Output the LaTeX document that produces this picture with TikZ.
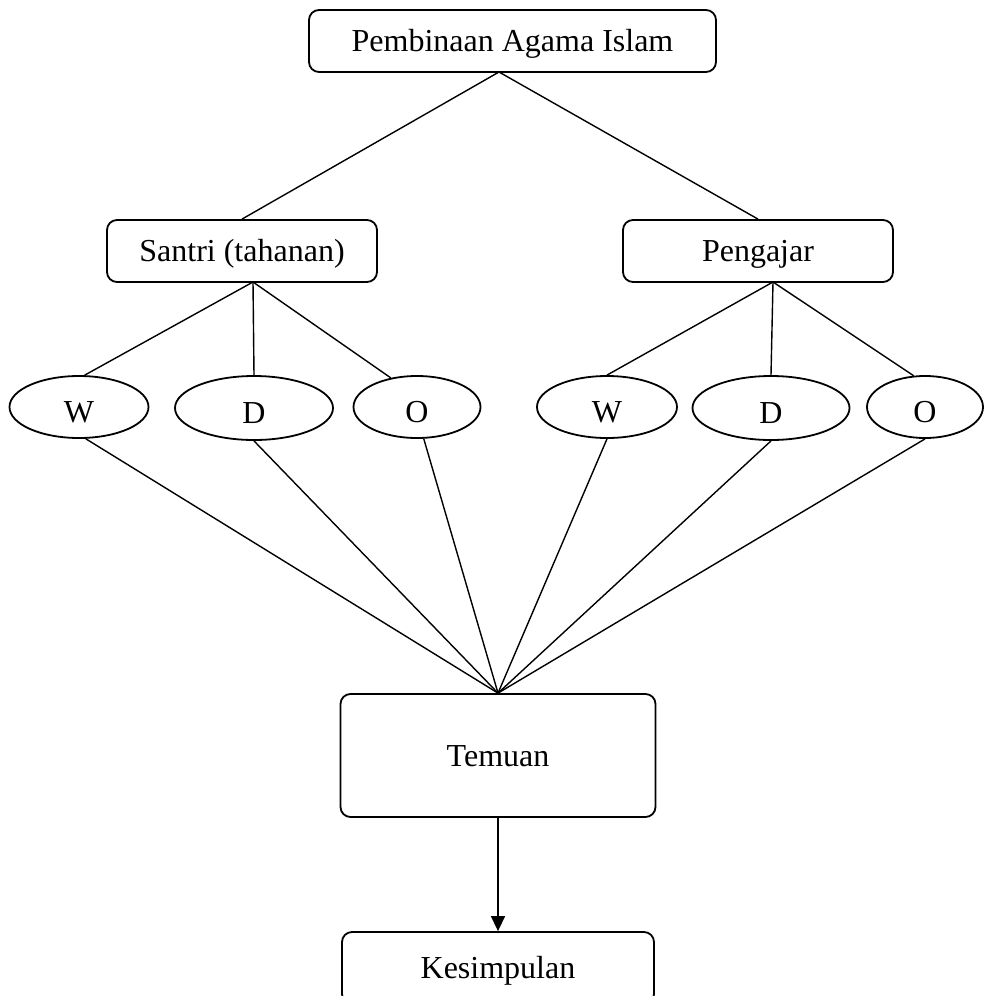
\documentclass[tikz,border=0pt]{standalone}
\usepackage{fontspec}
\setmainfont{Liberation Serif}
\usetikzlibrary{arrows.meta,shapes.geometric}

\begin{document}
\begin{tikzpicture}[x=0.5pt,y=-0.5pt,
	every node/.style={font=\fontsize{16}{19}\selectfont, inner sep=0pt, text height=10.8pt, text depth=0pt},
	kotak/.style={draw, rounded corners=5pt, line width=0.9pt},
	lonjong/.style={draw, ellipse, line width=0.9pt, minimum height=31pt, text height=15.5pt},
	garis/.style={line width=0.7pt}]
	\useasboundingbox (0,0) rectangle (984,996);
	\clip (0,0) rectangle (984,996);
	% kotak utama
	\node [kotak, minimum width=203.5pt, minimum height=31pt] (islam) at (512.5,41) {Pembinaan Agama Islam};
	\node [kotak, minimum width=135pt, minimum height=31pt] (santri) at (242,251) {Santri (tahanan)};
	\node [kotak, minimum width=135pt, minimum height=31pt] (pengajar) at (758,251) {Pengajar};
	\node [kotak, minimum width=157.5pt, minimum height=61.5pt] (temuan) at (498,755.5) {Temuan};
	\node [kotak, minimum width=156pt, minimum height=36pt] (kesimpulan) at (498,968) {Kesimpulan};
	% elips W D O
	\node [lonjong, minimum width=69.5pt] (w1) at (79,407) {W};
	\node [lonjong, minimum width=79pt, minimum height=32pt] (d1) at (254,408) {D};
	\node [lonjong, minimum width=63.5pt] (o1) at (417,407) {O};
	\node [lonjong, minimum width=70pt] (w2) at (607,407) {W};
	\node [lonjong, minimum width=78.5pt, minimum height=32pt] (d2) at (771,408) {D};
	\node [lonjong, minimum width=58pt] (o2) at (925,407) {O};
	% titik cabang
	\coordinate (islamfoot) at (499,72);
	\coordinate (santrifoot) at (253,282);
	\coordinate (pengajarfoot) at (773,282);
	% garis
	\draw [garis] (islamfoot) -- (santri.north);
	\draw [garis] (islamfoot) -- (pengajar.north);
	\draw [garis] (santrifoot) -- (w1.80);
	\draw [garis] (santrifoot) -- (d1.north);
	\draw [garis] (santrifoot) -- (o1.132);
	\draw [garis] (pengajarfoot) -- (w2.north);
	\draw [garis] (pengajarfoot) -- (d2.north);
	\draw [garis] (pengajarfoot) -- (o2.110);
	\draw [garis] (w1.-78) -- (temuan.north);
	\draw [garis] (d1.south) -- (temuan.north);
	\draw [garis] (o1.-78) -- (temuan.north);
	\draw [garis] (w2.south) -- (temuan.north);
	\draw [garis] (d2.south) -- (temuan.north);
	\draw [garis] (o2.south) -- (temuan.north);
	\draw [garis, -{Triangle[length=7.5pt,width=7pt]}] (temuan.south) -- (kesimpulan.north);
\end{tikzpicture}
\end{document}
